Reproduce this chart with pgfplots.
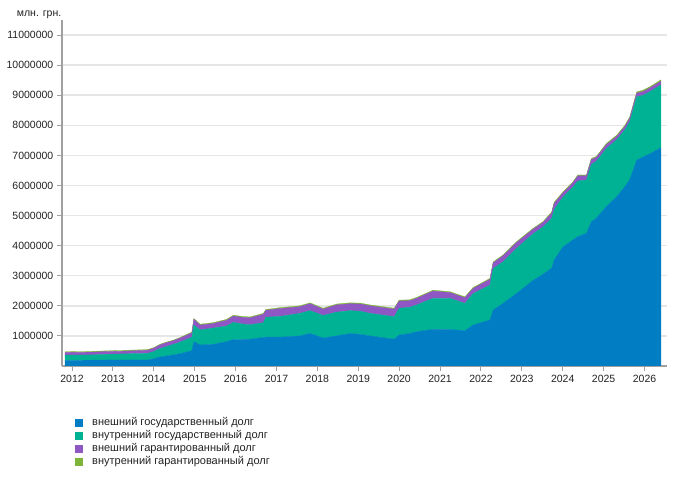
\documentclass[border=0pt]{standalone}
\usepackage{pgfplots}
\pgfplotsset{compat=1.18}
\usepackage{pgfplotstable}
\usepackage{fontspec}
\setmainfont{Liberation Sans}
\definecolor{cA}{HTML}{007DC3}
\definecolor{cB}{HTML}{00B294}
\definecolor{cC}{HTML}{8E57C4}
\definecolor{cD}{HTML}{7CB538}
\definecolor{axgray}{HTML}{A0A0A0}
\definecolor{gridgray}{HTML}{E6E6E6}
\definecolor{txt}{HTML}{222222}

% t: year; a: external state; b: internal state; c: external guaranteed; d: internal guaranteed (mln UAH)
\pgfplotstableread{
t a b c d
2011.83 190000 170000 90000 25000
2012.20 190000 175000 90000 25000
2012.50 195000 175000 90000 25000
2012.85 200000 190000 90000 25000
2013.20 200000 200000 90000 25000
2013.50 200000 210000 95000 25000
2013.85 200000 220000 100000 25000
2014.00 240000 240000 110000 20000
2014.15 300000 280000 120000 20000
2014.30 330000 310000 130000 20000
2014.48 370000 350000 120000 20000
2014.65 410000 390000 130000 20000
2014.85 480000 430000 140000 30000
2014.93 500000 450000 150000 20000
2014.98 810000 550000 190000 30000
2015.13 700000 500000 160000 30000
2015.45 720000 540000 150000 30000
2015.78 810000 520000 190000 30000
2015.95 880000 570000 210000 30000
2016.15 880000 520000 220000 30000
2016.35 890000 480000 230000 30000
2016.68 950000 490000 280000 30000
2016.74 960000 660000 230000 30000
2017.09 960000 690000 260000 30000
2017.57 1000000 750000 220000 30000
2017.82 1080000 760000 230000 30000
2018.14 930000 750000 210000 30000
2018.47 1000000 790000 240000 30000
2018.80 1080000 760000 230000 30000
2019.05 1050000 770000 240000 30000
2019.29 1000000 750000 250000 30000
2019.55 950000 750000 250000 30000
2019.88 890000 750000 250000 30000
2020.00 1030000 890000 240000 30000
2020.26 1080000 870000 220000 30000
2020.43 1140000 890000 220000 30000
2020.83 1220000 1030000 240000 30000
2021.24 1220000 1030000 190000 30000
2021.61 1170000 910000 190000 30000
2021.81 1360000 1050000 170000 30000
2022.22 1530000 1160000 190000 30000
2022.30 1860000 1380000 190000 30000
2022.54 2080000 1380000 200000 30000
2022.87 2410000 1500000 190000 30000
2023.28 2850000 1550000 150000 30000
2023.52 3050000 1570000 150000 30000
2023.73 3250000 1660000 170000 40000
2023.79 3520000 1680000 200000 40000
2024.01 3960000 1660000 140000 30000
2024.25 4190000 1760000 140000 30000
2024.37 4300000 1850000 170000 30000
2024.58 4410000 1770000 140000 30000
2024.70 4790000 1910000 160000 40000
2024.82 4910000 1890000 130000 30000
2025.07 5300000 1930000 130000 40000
2025.32 5620000 1900000 110000 40000
2025.52 5960000 1890000 110000 40000
2025.64 6200000 1920000 120000 40000
2025.81 6840000 2110000 120000 40000
2025.97 6950000 2050000 120000 50000
2026.13 7050000 2070000 120000 40000
2026.40 7250000 2090000 120000 50000
}\debt

\pgfplotsset{
  sq legend/.style={legend image code/.code={%
    \path[draw=none,fill=none] (0bp,0bp) -- (17bp,0bp);
    \fill[##1, draw=none] (0bp,-4bp) rectangle (8bp,4bp);}},
}

\begin{document}
\fontsize{10.5bp}{12.6bp}\selectfont
\begin{tikzpicture}
\useasboundingbox (0,0) rectangle (677bp,482bp);
\begin{axis}[
  at={(62bp,116bp)}, anchor=south west,
  scale only axis, width=605bp, height=346bp,
  xmin=2011.755, xmax=2026.55, ymin=0, ymax=11500000,
  axis lines*=left,
  axis line style={draw=axgray, line width=1.6bp},
  xtick={2012,2013,2014,2015,2016,2017,2018,2019,2020,2021,2022,2023,2024,2025,2026},
  ytick={1000000,2000000,3000000,4000000,5000000,6000000,7000000,8000000,9000000,10000000,11000000},
  tick align=outside, major tick length=5bp,
  tick style={draw=axgray, line width=1bp},
  ymajorgrids, grid style={draw=gridgray, line width=1.5bp},
  scaled y ticks=false, scaled x ticks=false,
  /pgf/number format/assume math mode=true,
  xticklabel style={/pgf/number format/1000 sep={}, font=\fontsize{10.5bp}{12bp}\selectfont, text=txt},
  yticklabel style={/pgf/number format/fixed, /pgf/number format/1000 sep={}, font=\fontsize{10.5bp}{12bp}\selectfont, text=txt},
  stack plots=y,
  legend style={at={(0.0215,-0.1441)}, anchor=north west, draw=none, fill=none,
    inner sep=0pt, row sep=0bp, column sep=0bp,
    nodes={inner xsep=0bp, inner ysep=1.25bp, text height=8bp, text depth=2.5bp, text=txt,
      font=\fontsize{11bp}{12bp}\selectfont}},
  legend cell align=left,
]
\addplot[fill=cA, draw=cA, line width=0.3bp, sq legend] table[x=t, y=a] {\debt} \closedcycle;
\addlegendentry{внешний государственный долг}
\addplot[fill=cB, draw=cB, line width=0.3bp, sq legend] table[x=t, y=b] {\debt} \closedcycle;
\addlegendentry{внутренний государственный долг}
\addplot[fill=cC, draw=cC, line width=0.3bp, sq legend] table[x=t, y=c] {\debt} \closedcycle;
\addlegendentry{внешний гарантированный долг}
\addplot[fill=cD, draw=cD, line width=0.3bp, sq legend] table[x=t, y=d] {\debt} \closedcycle;
\addlegendentry{внутренний гарантированный долг}
\end{axis}
\node[anchor=base west, text=txt, inner sep=0pt] at (16.7bp,465.5bp) {млн. грн.};
\end{tikzpicture}
\end{document}
